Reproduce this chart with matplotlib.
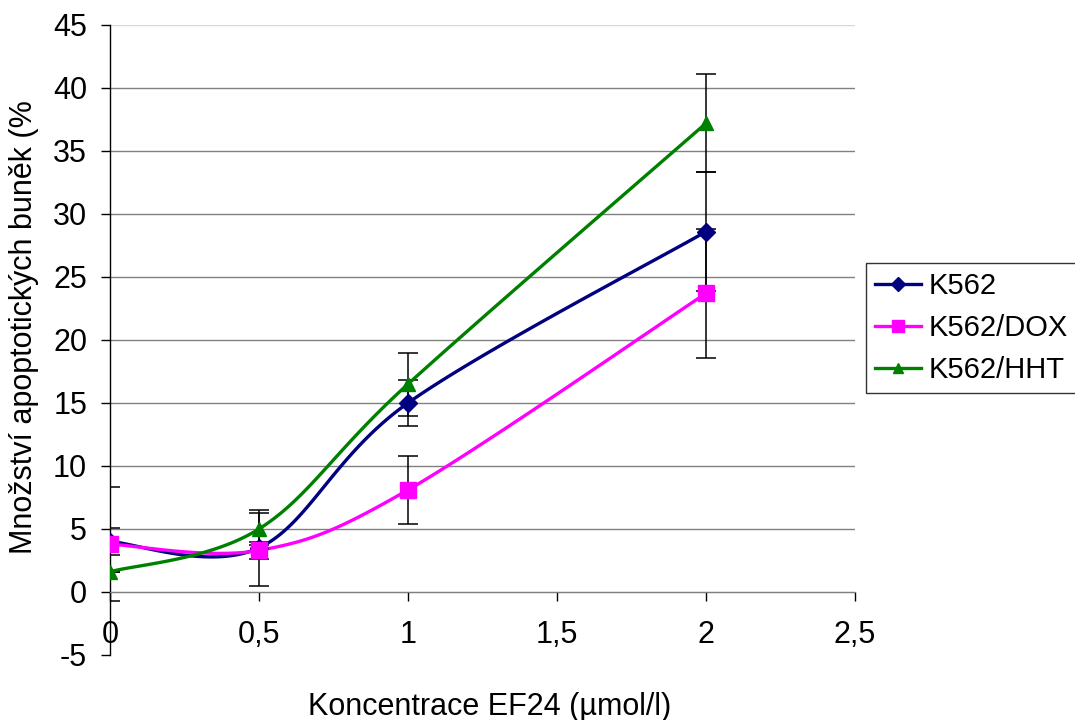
import numpy as np
import matplotlib
matplotlib.use("Agg")
import matplotlib.pyplot as plt
from matplotlib.lines import Line2D
from matplotlib.ticker import FuncFormatter

plt.rcParams['font.family'] = ['Liberation Sans', 'DejaVu Sans']
plt.rcParams['axes.unicode_minus'] = False

conc = [0, 0.5, 1, 2]
k562 = [4.0, 3.5, 15.0, 28.6]
k562_err = [1.1, 3.0, 1.8, 4.7]
dox = [3.8, 3.3, 8.1, 23.7]
dox_err = [4.5, 0.7, 2.7, 5.1]
hht = [1.6, 5.0, 16.5, 37.2]
hht_err = [0.0, 1.3, 2.5, 3.9]
labels = ["K562", "K562/DOX", "K562/HHT"]
colors = ["#000080", "#FF00FF", "#008000"]
markers = ["D", "s", "^"]


def smooth(xs, ys, sx=298.0, sy=12.6, n=40):
    # Bezier smoothing like a spreadsheet "smoothed line", done in pixel-ish space
    p = np.column_stack([np.array(xs) * sx, np.array(ys) * sy])
    pts = np.vstack([p[0], p, p[-1]])
    out = []
    t = np.linspace(0, 1, n)[:, None]
    for i in range(1, len(pts) - 2):
        p0, p1, p2, p3 = pts[i - 1], pts[i], pts[i + 1], pts[i + 2]
        c1 = p1 + (p2 - p0) / 6
        c2 = p2 - (p3 - p1) / 6
        seg = ((1 - t) ** 3) * p1 + 3 * ((1 - t) ** 2) * t * c1 + 3 * (1 - t) * t ** 2 * c2 + t ** 3 * p2
        out.append(seg if i == 1 else seg[1:])
    out = np.vstack(out)
    return out[:, 0] / sx, out[:, 1] / sy


fig = plt.figure(figsize=(10.75, 7.2), dpi=100)
ax = fig.add_axes([0.1023, 0.0903, 0.693, 0.875])
ax.set_xlim(0, 2.5)
ax.set_ylim(-5, 45)

for g in range(0, 45, 5):
    ax.axhline(g, color="#808080", lw=1.0, zorder=1)
ax.axhline(45, color="#d8d8d8", lw=1.0, zorder=1)

series = [(k562, k562_err), (dox, dox_err), (hht, hht_err)]
for (ys, err), c in zip(series, colors):
    ax.errorbar(conc, ys, yerr=err, fmt="none", ecolor="black", elinewidth=1.1,
                capsize=7.5, capthick=1.1, zorder=2)

handles = []
msizes = [9.5, 11.5, 10]
leg_ms = [7.5, 9, 7.5]
for (ys, err), c, m, lab, ms, lms in zip(series, colors, markers, labels, msizes, leg_ms):
    sxv, syv = smooth(conc, ys)
    ax.plot(sxv, syv, color=c, lw=2.4, zorder=3, solid_capstyle="round")
    ax.plot(conc, ys, ls="none", marker=m, color=c, ms=ms, zorder=4)
    handles.append(Line2D([0], [0], color=c, lw=2.4, marker=m, ms=lms, label=lab))

ax.spines["top"].set_visible(False)
ax.spines["right"].set_visible(False)
ax.spines["bottom"].set_position(("data", 0))
ax.spines["bottom"].set_color("#808080")
ax.spines["left"].set_linewidth(1.0)

ax.set_xticks([0, 0.5, 1, 1.5, 2, 2.5])
ax.set_yticks(range(-5, 50, 5))
fmt = FuncFormatter(lambda v, pos: ("%g" % v).replace(".", ","))
ax.xaxis.set_major_formatter(fmt)
ax.yaxis.set_major_formatter(fmt)
ax.tick_params(axis="x", direction="out", length=6.5, width=1.0, color="black", pad=14, labelsize=22)
ax.tick_params(axis="y", direction="out", length=6.5, width=1.0, pad=10, labelsize=22)

fig.text(490 / 1075, 5 / 720, "Koncentrace EF24 (µmol/l)", fontsize=22,
         ha="center", va="baseline")
fig.text(24 / 1075, 1 - 327 / 720, "Množství apoptotických buněk (%", fontsize=22,
         rotation=90, ha="center", va="center")

leg = fig.legend(handles=handles, loc="upper left", bbox_to_anchor=(866 / 1075, 1 - 263 / 720),
                 fontsize=21, frameon=True, fancybox=False, edgecolor="black",
                 handlelength=1.6, handletextpad=0.25, borderpad=0.3, labelspacing=0.48,
                 borderaxespad=0)
leg.get_frame().set_linewidth(1.0)

fig.savefig("out.png", dpi=100)
